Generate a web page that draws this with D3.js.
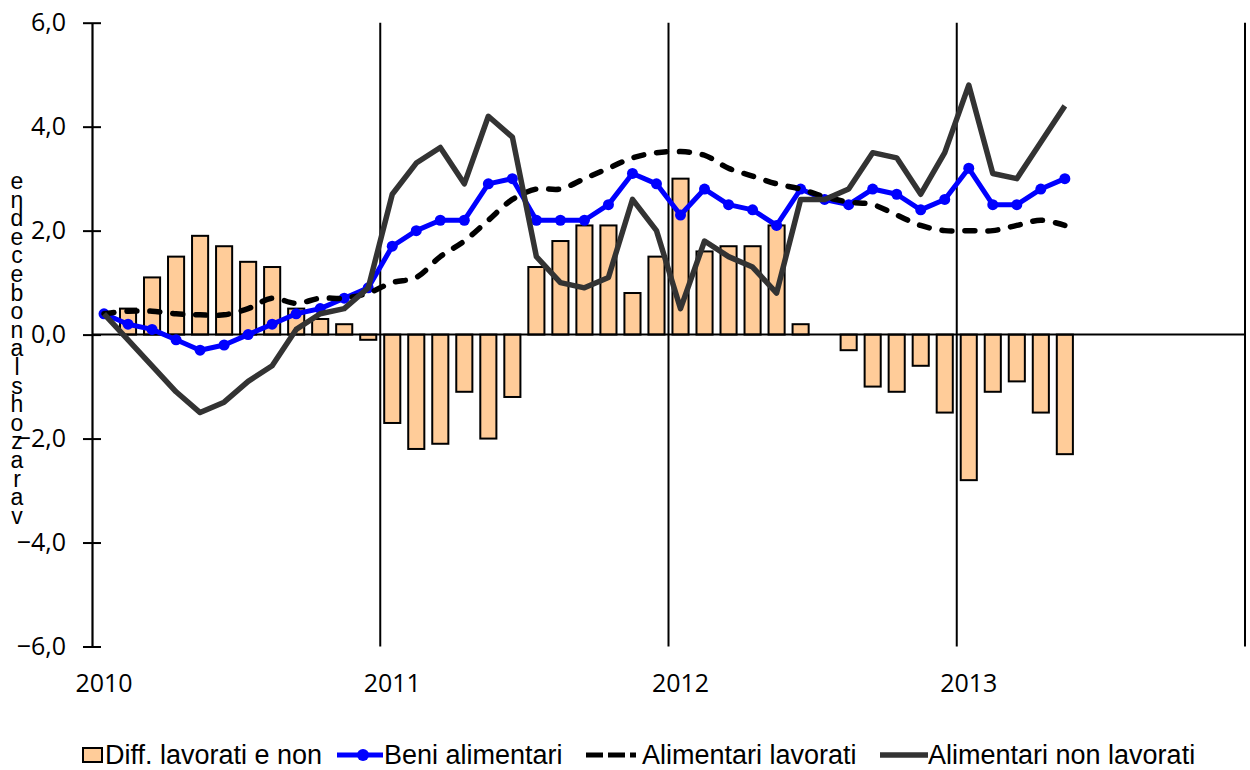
<!DOCTYPE html>
<html>
<head>
<meta charset="utf-8">
<script src="https://cdn.jsdelivr.net/npm/d3@7"></script>
<style>
  body { margin: 0; background: #fff; }
  svg { display: block; }
</style>
</head>
<body>
<script>
// Dati (variazioni %, gen 2010 - mag 2013)
var anni = ["2010", "2011", "2012", "2013"];
var tickY = [-6, -4, -2, 0, 2, 4, 6];
var nomiSerie = ["Diff. lavorati e non", "Beni alimentari", "Alimentari lavorati", "Alimentari non lavorati"];

var diffLavorati = [0, 0.5, 1.1, 1.5, 1.9, 1.7, 1.4, 1.3, 0.5, 0.3, 0.2, -0.1,
  -1.7, -2.2, -2.1, -1.1, -2.0, -1.2, 1.3, 1.8, 2.1, 2.1, 0.8, 1.5,
  3.0, 1.6, 1.7, 1.7, 2.1, 0.2, 0, -0.3, -1.0, -1.1, -0.6, -1.5,
  -2.8, -1.1, -0.9, -1.5, -2.3];

var beniAlimentari = [0.4, 0.2, 0.1, -0.1, -0.3, -0.2, 0.0, 0.2, 0.4, 0.5, 0.7, 0.9,
  1.7, 2.0, 2.2, 2.2, 2.9, 3.0, 2.2, 2.2, 2.2, 2.5, 3.1, 2.9,
  2.3, 2.8, 2.5, 2.4, 2.1, 2.8, 2.6, 2.5, 2.8, 2.7, 2.4, 2.6,
  3.2, 2.5, 2.5, 2.8, 3.0];

var alimLavorati = [0.4, 0.45, 0.45, 0.4, 0.38, 0.38, 0.5, 0.7, 0.6, 0.7, 0.7, 0.8,
  1.0, 1.1, 1.5, 1.8, 2.2, 2.6, 2.8, 2.8, 3.0, 3.2, 3.4, 3.5,
  3.52, 3.45, 3.2, 3.05, 2.9, 2.8, 2.65, 2.55, 2.5, 2.3, 2.1, 2.0,
  2.0, 2.0, 2.1, 2.2, 2.1];

var alimNonLavorati = [0.4, -0.1, -0.6, -1.1, -1.5, -1.3, -0.9, -0.6, 0.1, 0.4, 0.5, 0.9,
  2.7, 3.3, 3.6, 2.9, 4.2, 3.8, 1.5, 1.0, 0.9, 1.1, 2.6, 2.0,
  0.5, 1.8, 1.5, 1.3, 0.8, 2.6, 2.6, 2.8, 3.5, 3.4, 2.7, 3.5,
  4.8, 3.1, 3.0, 3.7, 4.4];

var etichettaY = ["e", "n", "d", "e", "c", "e", "b", "o", "n", "a", "l", "s", "h", "o", "z", "a", "r", "a", "v"];

var larghezza = 1250, altezza = 770;
var svg = d3.select("body").append("svg")
  .attr("width", larghezza)
  .attr("height", altezza);

// Mesi: l'asse copre 2010-2013 completi (48 mesi)
var tuttiMesi = d3.range(anni.length * 12);
var x = d3.scaleBand()
  .domain(tuttiMesi)
  .range([92, 1245])
  .paddingInner(0.33)
  .paddingOuter(0.165);
var passo = x.step();
var centro = function(i) { return 92 + passo * (i + 0.5); };
var inizioAnno = function(k) { return 92 + passo * 12 * k; };

var y = d3.scaleLinear()
  .domain([-6, 6])
  .range([646.5, 22.7]);

var virgola = function(d) { return d3.format(".1f")(d).replace(".", ","); };

// Barre
svg.append("g")
  .selectAll("rect")
  .data(diffLavorati)
  .enter().append("rect")
  .attr("x", function(d, i) { return x(i); })
  .attr("width", x.bandwidth())
  .attr("y", function(d) { return y(Math.max(0, d)); })
  .attr("height", function(d) { return Math.abs(y(d) - y(0)); })
  .attr("fill", "#FFCC99")
  .attr("stroke", "#000")
  .attr("stroke-width", 2);

// Linee verticali degli anni e bordo destro
svg.append("g")
  .selectAll("line")
  .data(d3.range(1, anni.length + 1))
  .enter().append("line")
  .attr("x1", function(k) { return inizioAnno(k); })
  .attr("x2", function(k) { return inizioAnno(k); })
  .attr("y1", y(6))
  .attr("y2", y(-6))
  .attr("stroke", "#000")
  .attr("stroke-width", 2);

// Linea dello zero
svg.append("line")
  .attr("x1", 92).attr("x2", 1245)
  .attr("y1", y(0)).attr("y2", y(0))
  .attr("stroke", "#000")
  .attr("stroke-width", 2);

// Asse Y
var assey = svg.append("g")
  .attr("transform", "translate(92,0)")
  .call(d3.axisLeft(y).tickValues(tickY).tickFormat(virgola).tickSize(9).tickSizeOuter(0).tickPadding(17));
assey.select(".domain").attr("stroke-width", 2.2);
assey.selectAll(".tick line").attr("x1", 9).attr("stroke-width", 2);
assey.selectAll(".tick text")
  .attr("font-family", "'Open Sans', sans-serif")
  .attr("font-size", "25px")
  .attr("fill", "#000");

// Etichette anni
svg.append("g")
  .selectAll("text")
  .data(anni)
  .enter().append("text")
  .attr("x", function(d, k) { return centro(k * 12); })
  .attr("y", 692)
  .attr("text-anchor", "middle")
  .attr("font-family", "'Open Sans', sans-serif")
  .attr("font-size", "25px")
  .text(function(d) { return d; });

// Linee
var linea = d3.line()
  .x(function(d, i) { return centro(i); })
  .y(function(d) { return y(d); });

svg.append("path")
  .attr("d", linea(beniAlimentari))
  .attr("fill", "none")
  .attr("stroke", "#0000FF")
  .attr("stroke-width", 5)
  .attr("stroke-linejoin", "round");

svg.append("g")
  .selectAll("circle")
  .data(beniAlimentari)
  .enter().append("circle")
  .attr("cx", function(d, i) { return centro(i); })
  .attr("cy", function(d) { return y(d); })
  .attr("r", 5.5)
  .attr("fill", "#0000FF");

svg.append("path")
  .attr("d", linea.curve(d3.curveCatmullRom)(alimLavorati))
  .attr("fill", "none")
  .attr("stroke", "#000")
  .attr("stroke-width", 5.5)
  .attr("stroke-linecap", "round")
  .attr("stroke-dasharray", "10,13");
linea.curve(d3.curveLinear);

svg.append("path")
  .attr("d", linea(alimNonLavorati))
  .attr("fill", "none")
  .attr("stroke", "#333333")
  .attr("stroke-width", 5.5)
  .attr("stroke-linejoin", "round");

// Titolo asse Y (lettere impilate)
svg.append("g")
  .selectAll("text")
  .data(etichettaY)
  .enter().append("text")
  .attr("x", 17)
  .attr("y", function(d, i) { return 189 + i * 18.6; })
  .attr("text-anchor", "middle")
  .attr("font-family", "'Liberation Sans', sans-serif")
  .attr("font-size", "23px")
  .text(function(d) { return d; });

// Legenda
var legX = [83, 337, 586, 880];
var testoX = [105, 384, 642, 928];
var legY = 755;
var leg = svg.append("g")
  .attr("font-family", "'Liberation Sans', sans-serif")
  .attr("font-size", "27px");

leg.append("rect")
  .attr("x", legX[0]).attr("y", legY - 7)
  .attr("width", 19).attr("height", 14)
  .attr("fill", "#FFCC99").attr("stroke", "#000").attr("stroke-width", 2);

leg.append("line")
  .attr("x1", legX[1]).attr("x2", legX[1] + 46)
  .attr("y1", legY).attr("y2", legY)
  .attr("stroke", "#0000FF").attr("stroke-width", 5);
leg.append("circle")
  .attr("cx", legX[1] + 26).attr("cy", legY).attr("r", 6).attr("fill", "#0000FF");

leg.append("line")
  .attr("x1", legX[2]).attr("x2", legX[2] + 55)
  .attr("y1", legY).attr("y2", legY)
  .attr("stroke", "#000").attr("stroke-width", 5)
  .attr("stroke-dasharray", "17,5,17,5,6,10");

leg.append("line")
  .attr("x1", legX[3]).attr("x2", legX[3] + 48)
  .attr("y1", legY).attr("y2", legY)
  .attr("stroke", "#333333").attr("stroke-width", 5.5);

leg.selectAll("text")
  .data(nomiSerie)
  .enter().append("text")
  .attr("x", function(d, i) { return testoX[i]; })
  .attr("y", 764)
  .text(function(d) { return d; });
</script>
</body>
</html>
